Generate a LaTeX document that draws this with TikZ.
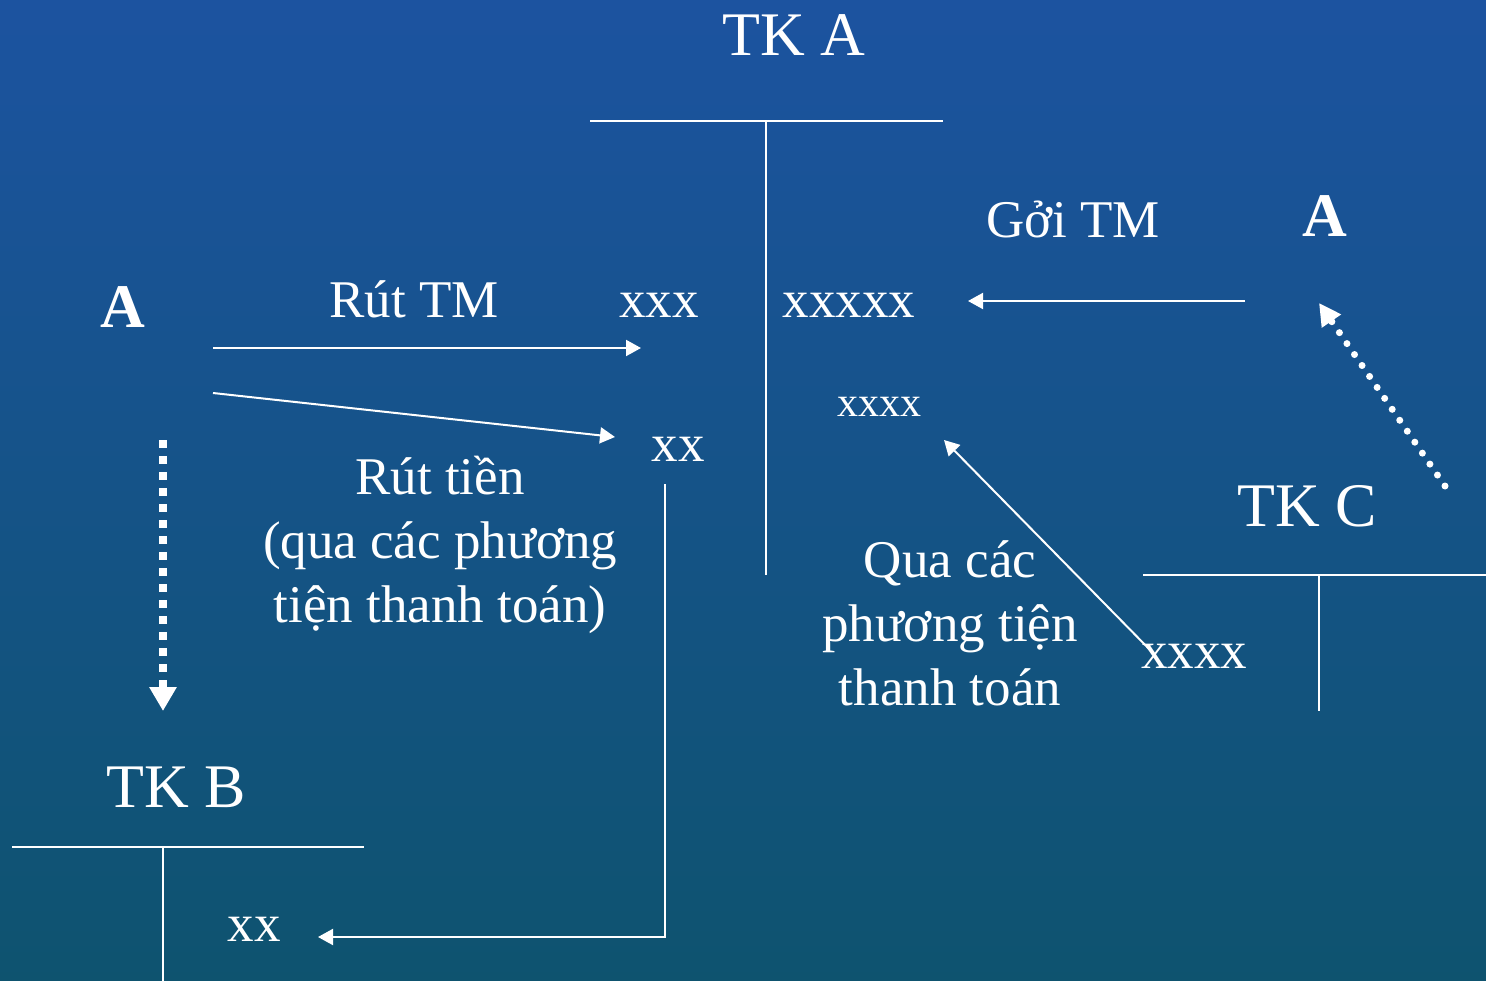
\documentclass[tikz,border=0pt]{standalone}
\usepackage{fontspec}
\setmainfont{Liberation Serif}
\usetikzlibrary{arrows.meta}
\definecolor{bgtop}{RGB}{28,83,160}
\definecolor{bgbottom}{RGB}{14,83,111}
\tikzset{
  lbl/.style={text=white, inner sep=0pt, anchor=base, font=\fontsize{53}{63}\selectfont},
  title/.style={lbl, font=\fontsize{62}{72}\selectfont},
  bigA/.style={lbl, font=\fontsize{62}{72}\selectfont\bfseries},
  small/.style={lbl, font=\fontsize{42}{50}\selectfont},
  rule/.style={draw=white, line width=2pt},
  arr/.style={draw=white, line width=2pt, -{Triangle[length=15pt,width=16pt]}},
  squaredots/.style={draw=white, line width=8pt, dash pattern=on 8pt off 8pt,
    -{Triangle[length=24pt,width=26pt]}},
  rounddots/.style={draw=white, line width=7pt, line cap=round, dash pattern=on 0pt off 13.3pt,
    -{Triangle[length=22pt,width=22pt]}}
}
\begin{document}
\begin{tikzpicture}[x=1pt,y=-1pt]
  % background
  \shade[top color=bgtop, bottom color=bgbottom] (0,0) rectangle (1486,981);
  \useasboundingbox (0,0) rectangle (1486,981);

  % account TK A
  \node[title] (tka) at (794,56) {TK A};
  \coordinate (tkaL) at (590,121);
  \coordinate (tkaR) at (943,121);
  \coordinate (tkaT) at (766,121);
  \coordinate (tkaB) at (766,575);
  \draw[rule] (tkaL) -- (tkaR);
  \draw[rule] (tkaT) -- (tkaB);

  % account TK B
  \node[title] (tkb) at (176,807) {TK B};
  \coordinate (tkbL) at (12,847);
  \coordinate (tkbR) at (364,847);
  \coordinate (tkbT) at (163,847);
  \coordinate (tkbB) at (163,981);
  \draw[rule] (tkbL) -- (tkbR);
  \draw[rule] (tkbT) -- (tkbB);

  % account TK C
  \node[title] (tkc) at (1307,526) {TK C};
  \coordinate (tkcL) at (1143,575);
  \coordinate (tkcR) at (1486,575);
  \coordinate (tkcT) at (1319,575);
  \coordinate (tkcB) at (1319,711);
  \draw[rule] (tkcL) -- (tkcR);
  \draw[rule] (tkcT) -- (tkcB);

  % parties
  \node[bigA] (aL) at (123,328) {A};
  \node[bigA] (aR) at (1325,237) {A};

  % amounts
  \node[lbl] (xxx) at (659,318) {xxx};
  \node[lbl] (xxxxx) at (849,318) {xxxxx};
  \node[small] (xxxxs) at (879,417) {xxxx};
  \node[lbl] (xxa) at (678,461) {xx};
  \node[lbl] (xxb) at (254,941) {xx};
  \node[lbl] (xxxxc) at (1194,668) {xxxx};

  % transaction labels
  \node[lbl] (rutTM) at (414,318) {Rút TM};
  \node[lbl] (goiTM) at (1073,238) {Gởi TM};
  \node[lbl] (rt1) at (440,494) {Rút tiền};
  \node[lbl] (rt2) at (440,558) {(qua các phương};
  \node[lbl] (rt3) at (440,622) {tiện thanh toán)};
  \node[lbl] (qc1) at (950,577) {Qua các};
  \node[lbl] (qc2) at (950,641) {phương tiện};
  \node[lbl] (qc3) at (950,705) {thanh toán};

  % arrow end points
  \coordinate (rutS) at (213,348);
  \coordinate (rutE) at (641,348);
  \coordinate (rtS) at (213,393);
  \coordinate (rtE) at (615,437);
  \coordinate (goiS) at (1245,301);
  \coordinate (goiE) at (968,301);
  \coordinate (qcS) at (1155,655);
  \coordinate (qcE) at (944,440);
  \coordinate (xxS) at (665,484);
  \coordinate (xxC) at (665,937);
  \coordinate (xxE) at (318,937);
  \coordinate (dnS) at (163,440);
  \coordinate (dnE) at (163,711);
  \coordinate (upS) at (1445,486);
  \coordinate (upE) at (1319,303);

  % flows
  \draw[arr] (rutS) -- (rutE);
  \draw[arr] (rtS) -- (rtE);
  \draw[arr] (goiS) -- (goiE);
  \draw[arr] (qcS) -- (qcE);
  \draw[arr] (xxS) -- (xxC) -- (xxE);
  \draw[squaredots] (dnS) -- (dnE);
  \draw[rounddots] (upS) -- (upE);
\end{tikzpicture}
\end{document}
